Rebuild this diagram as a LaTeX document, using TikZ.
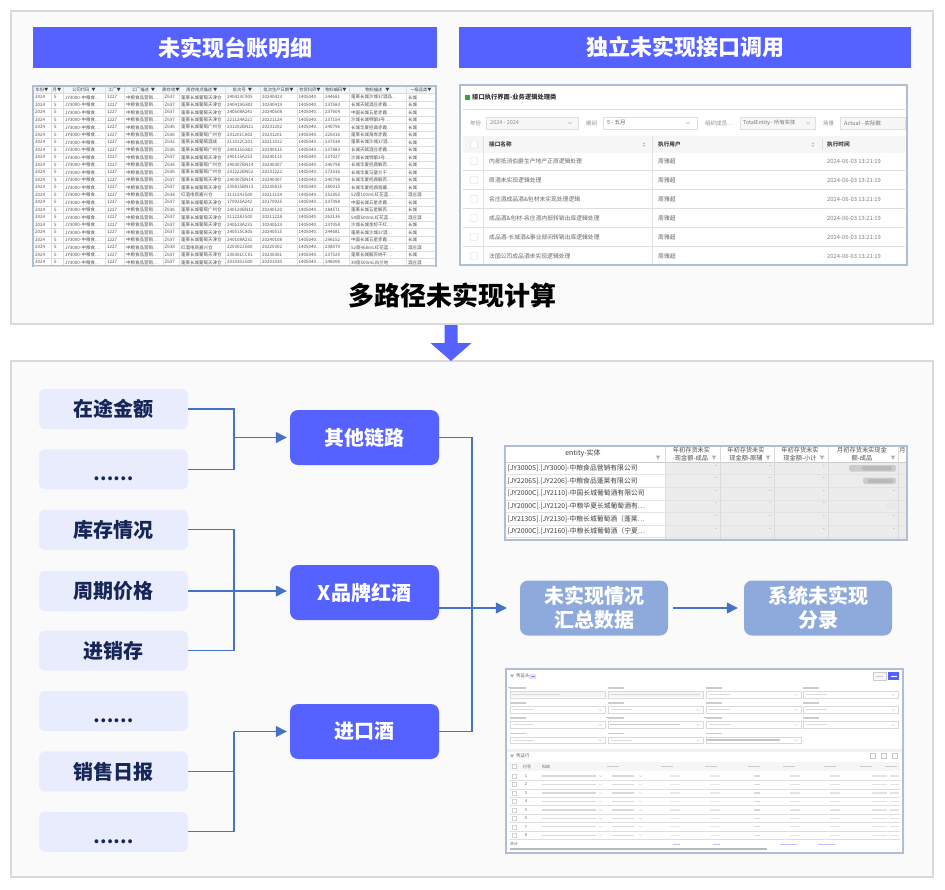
\documentclass[tikz,border=0pt]{standalone}
\usepackage{fontspec}
\setmainfont{Noto Sans CJK SC}
\usetikzlibrary{arrows.meta}
\newcommand\myfs[1]{\fontsize{#1}{#1}\selectfont}
\newcommand\lowdots{\smash{\raisebox{-11.5pt}{\myfs{18}……}}}
\definecolor{hdrblue}{RGB}{86,98,255}
\definecolor{panelbg}{RGB}{250,250,251}
\definecolor{panelline}{RGB}{217,217,217}
\definecolor{srcfill}{RGB}{232,236,253}
\definecolor{srctext}{RGB}{22,38,86}
\definecolor{connblue}{RGB}{68,114,196}
\definecolor{sumfill}{RGB}{142,169,219}
\definecolor{shotframe}{RGB}{176,190,212}
\definecolor{gridc}{RGB}{222,222,222}
\definecolor{txtgray}{RGB}{80,80,80}
\definecolor{cellgray}{RGB}{236,236,236}
\definecolor{hdrgray}{RGB}{245,246,248}
\begin{document}
\begin{tikzpicture}[x=1pt,y=-1pt,
  panel/.style={fill=panelbg,draw=panelline,line width=2pt},
  header/.style={fill=hdrblue,text=white,font=\myfs{22}\bfseries,minimum height=41pt,inner sep=0pt},
  srcbox/.style={fill=srcfill,rounded corners=6pt,minimum width=149pt,minimum height=40pt,inner sep=0pt,text=srctext,font=\myfs{20}\bfseries},
  chainbox/.style={fill=hdrblue,rounded corners=8pt,minimum width=149pt,minimum height=55pt,inner sep=0pt,text=white,font=\myfs{20}\bfseries},
  sumbox/.style={fill=sumfill,rounded corners=8pt,minimum width=148pt,minimum height=55pt,inner sep=0pt,text=white,align=center,font=\fontsize{20}{24}\selectfont\bfseries},
  conn/.style={draw=connblue,line width=1.3pt},
  arr/.style={-{Triangle[length=11pt,width=11pt]}},
  shot/.style={draw=shotframe,line width=1.5pt,fill=white},
  sc/.style={anchor=west,inner sep=0pt,font=\myfs{4.5},text=txtgray},
  hc/.style={inner sep=0pt,font=\myfs{4.3},text=black!75},
  tx/.style={anchor=west,inner sep=0pt,font=\myfs{5.8},text=black!60},
  funnel/.pic={\fill[gray!65] (-2.5,-2)--(2.5,-2)--(0.6,0.3)--(0.6,2.2)--(-0.6,1.6)--(-0.6,0.3)--cycle;}
]
\useasboundingbox (0,0) rectangle (945,889);
\fill[white] (0,0) rectangle (945,889);
% panels
\draw[panel] (11,11) rectangle (933,324);
\draw[panel] (11,361) rectangle (933,877);
% headers
\node[header,minimum width=404pt] (h1) at (235,47.5) {未实现台账明细};
\node[header,minimum width=452pt] (h2) at (685,47.5) {独立未实现接口调用};
\node[font=\myfs{26}\bfseries,text=black,inner sep=0pt] (title) at (452,295) {多路径未实现计算};
% big arrow
\fill[hdrblue] (444.5,325) -- (457.5,325) -- (457.5,343) -- (471.5,343) -- (451,361) -- (430.5,343) -- (444.5,343) -- cycle;

% ================= screenshot 1 : spreadsheet
\draw[shot] (33,86) rectangle (436,266);
\fill[hdrgray] (34,87) rectangle (435,93.5);
\foreach \k in {0,...,23}{\draw[gridc,line width=.3pt] (34,93.5+7.5*\k) -- (435,93.5+7.5*\k);}
\foreach \x in {51,63,105,124,163,179,225,260,297,323,349,406}{\draw[gridc,line width=.3pt] (\x,87) -- (\x,265);}
\foreach \cx/\lab [count=\j] in {42/年份▼,57/月▼,84/公司代码~~▼,114.5/工厂▼,143.5/工厂描述~~▼,171/库存地▼,202/库存地点描述~▼,242.5/批次号~~▼,278.5/批次生产日期▼,310/存货科目▼,336/物料编码▼,377.5/物料描述~~~▼,421/一级品类▼}
  {\node[hc] (sh\j) at (\cx,90.3) {\lab};}
\foreach \loc/\ld/\bt/\dt/\mt/\md/\ct [count=\i] in {
Z637/蓬莱长城葡萄天津仓/240423C905/20240423/244681/蓬莱长城沙城37酒品…/长城,
Z637/蓬莱长城葡萄天津仓/240419G802/20240419/237583/长城天赋酒庄赤霞…/长城,
Z637/蓬莱长城葡萄天津仓/240508A241/20240508/237604/中国长城五星赤霞…/长城,
Z637/蓬莱长城葡萄天津仓/221124A221/20221124/237154/沙城长城特酿3号…/长城,
Z636/蓬莱长城葡萄广州仓/231202BN21/20231202/240796/长城华夏经典赤霞…/长城,
Z636/蓬莱长城葡萄广州仓/231201C802/20231201/225016/蓬莱长城海岸赤霞…/长城,
Z632/蓬莱长城葡萄酒成…/211012C201/20211012/237538/蓬莱长城沙城37酒…/长城,
Z636/蓬莱长城葡萄广州仓/240515G802/20240515/237883/长城天赋酒庄赤霞…/长城,
Z637/蓬莱长城葡萄天津仓/240115A223/20240115/237027/沙城长城特酿3号…/长城,
Z638/蓬莱长城葡萄广州仓/240307BN14/20240307/240798/长城华夏经典解百…/长城,
Z636/蓬莱长城葡萄广州仓/231222BN52/20231222/273316/长城华夏马瑟兰干…/长城,
Z637/蓬莱长城葡萄天津仓/240307BN14/20240307/240798/长城华夏经典解百…/长城,
Z637/蓬莱长城葡萄天津仓/230815BN13/20230815/280015/长城华夏经典窖藏…/长城,
Z638/红酒电商嘉兴仓/211124JG00/20211124/252855/52度100mL红花蓝…/酒庄酒,
Z637/蓬莱长城葡萄天津仓/170925A242/20170925/237398/中国长城五星赤霞…/长城,
Z636/蓬莱长城葡萄广州仓/240120BN12/20240120/284571/蓬莱长城五星解百…/长城,
Z637/蓬莱长城葡萄天津仓/211228JG00/20211228/262136/54度500mL红花蓝…/酒庄酒,
Z637/蓬莱长城葡萄天津仓/240513A231/20240513/237058/沙城长城金标干红…/长城,
Z637/蓬莱长城葡萄天津仓/240515C805/20240515/244681/蓬莱长城沙城37酒…/长城,
Z637/蓬莱长城葡萄天津仓/240108A231/20240108/296152/中国长城五星赤霞…/长城,
Z638/红酒电商嘉兴仓/220302JG00/20220302/238079/52度468mL红花蓝…/酒庄酒,
Z637/蓬莱长城葡萄天津仓/230301CC01/20230301/237529/蓬莱长城解百纳干…/长城,
Z637/蓬莱长城葡萄天津仓/201030JG00/20201030/248006/39度500mL白兰地/酒庄酒}{
  \pgfmathsetmacro\yy{97.3+7.5*(\i-1)}
  \node[sc] (a\i-1) at (35,\yy) {2024};
  \node[sc] (a\i-2) at (54,\yy) {5};
  \node[sc] (a\i-3) at (65,\yy) {JY3000-中粮食…};
  \node[sc] (a\i-4) at (107,\yy) {1227};
  \node[sc] (a\i-5) at (126,\yy) {中粮食品营销…};
  \node[sc] (a\i-6) at (164.5,\yy) {\loc};
  \node[sc] (a\i-7) at (181,\yy) {\ld};
  \node[sc] (a\i-8) at (227,\yy) {\bt};
  \node[sc] (a\i-9) at (262,\yy) {\dt};
  \node[sc] (a\i-10) at (298.5,\yy) {1405040…};
  \node[sc] (a\i-11) at (325,\yy) {\mt};
  \node[sc] (a\i-12) at (351,\yy) {\md};
  \node[sc] (a\i-13) at (408,\yy) {\ct};
}

% ================= screenshot 2 : interface list
\draw[shot] (460,85) rectangle (907,265);
\fill[green!55!black!80] (465,94.5) rectangle (469.5,100);
\node[anchor=west,inner sep=0pt,font=\myfs{6.3}\bfseries,text=black!80] (b-title) at (472,97.3) {接口执行界面-业务逻辑处理类};
\draw[gridc,line width=.4pt] (463,109) -- (905,109);
\node[tx,font=\myfs{5.5},text=black!45] (b-f1) at (470,123) {年份};
\draw[gray!25,fill=gray!6] (486,117) rectangle (578,129);
\node[tx,font=\myfs{5.5},text=black!45] (b-f1v) at (490,123) {2024 - 2024};
\node[tx,font=\myfs{5.5},text=black!45] (b-f2) at (586,123) {期间};
\draw[gray!25,fill=white] (603,117) rectangle (697,129);
\node[tx,font=\myfs{5.5},text=black!60] (b-f2v) at (607,123) {5 - 五月};
\node[tx,font=\myfs{5.5},text=black!45] (b-f3) at (705,123) {组织成员…};
\draw[gray!25,fill=gray!6] (740,117) rectangle (815,129);
\node[tx,font=\myfs{5.3},text=black!55] (b-f3v) at (743,123) {TotalEntity - 所有实体};
\node[tx,font=\myfs{5.5},text=black!45] (b-f4) at (823,123) {场景};
\draw[gray!25,fill=gray!6] (840,117) rectangle (905,129);
\node[tx,font=\myfs{5.5},text=black!55] (b-f4v) at (844,123) {Actual - 实际数};
\foreach \x in {570,688,808}{\draw[gray!50,line width=.4pt] (\x-2,122) -- (\x,124) -- (\x+2,122);}
\fill[hdrgray] (463,136) rectangle (905,153);
\foreach \k in {1,...,5}{\draw[gridc,line width=.4pt] (463,151.5+19*\k) -- (905,151.5+19*\k);}
\draw[gridc,line width=.4pt] (483,136) -- (483,264);
\draw[gridc,line width=.4pt] (652,136) -- (652,264);
\draw[gridc,line width=.4pt] (822,139) -- (822,150);
\draw[gray!40,fill=white,rounded corners=.8pt] (470.5,141) rectangle (477.5,148);
\node[tx,font=\myfs{5.6}\bfseries,text=black!75] (b-h1) at (489,144.5) {接口名称};
\node[tx,font=\myfs{5.6}\bfseries,text=black!75] (b-h2) at (658,144.5) {执行用户};
\node[tx,font=\myfs{5.6}\bfseries,text=black!75] (b-h3) at (827,144.5) {执行时间};
\foreach \x in {644,813}{\fill[gray!50] (\x-1.3,143.8)--(\x+1.3,143.8)--(\x,142.2)--cycle; \fill[gray!50] (\x-1.3,145.2)--(\x+1.3,145.2)--(\x,146.8)--cycle;}
\foreach \t [count=\k] in {{内部抵消伯爵生产地产正原逻辑处理},{原酒未实现逻辑处理},{名庄酒成品酒\&包材未实现处理逻辑},{成品酒\&包材-名庄酒内部转销出库逻辑处理},{成品酒-长城酒\&事业部间转销出库逻辑处理},{法国公司成品酒未实现逻辑处理}}{
  \pgfmathsetmacro\yy{161+19*(\k-1)}
  \draw[gray!35,fill=white,rounded corners=.8pt] (470.5,\yy-3.5) rectangle (477.5,\yy+3.5);
  \node[tx] (b-r\k) at (489,\yy) {\t};
  \node[tx] (b-u\k) at (658,\yy) {周雅超};
  \node[tx,text=black!50] (b-d\k) at (827,\yy) {2024-06-03 13:21:19};
}

% ================= screenshot 3 : entity table
\draw[shot] (505,446) rectangle (907,540);
\fill[cellgray] (665,462) rectangle (906,539);
\foreach \k in {0,...,6}{\draw[gray!22,line width=.4pt] (506,462+12.6*\k) -- (906,462+12.6*\k);}
\draw[gray!40,line width=.5pt] (506,462) -- (906,462);
\foreach \x in {665,720,774,828,898}{\draw[gray!28,line width=.4pt] (\x,447) -- (\x,539);}
\node[inner sep=0pt,font=\myfs{7},text=black!75] (c-h1) at (583,453.5) {entity-实体};
\node[inner sep=0pt,align=center,font=\fontsize{6.2}{8}\selectfont,text=black!70] (c-h2) at (691.5,454.5) {年初存货未实\\现金额-成品};
\node[inner sep=0pt,align=center,font=\fontsize{6.2}{8}\selectfont,text=black!70] (c-h3) at (746,454.5) {年初存货未实\\现金额-原辅};
\node[inner sep=0pt,align=center,font=\fontsize{6.2}{8}\selectfont,text=black!70] (c-h4) at (800,454.5) {年初存货未实\\现金额-小计};
\node[inner sep=0pt,align=center,font=\fontsize{6.2}{8}\selectfont,text=black!70] (c-h5) at (862,454.5) {月初存货未实现金\\额-成品};
\node[inner sep=0pt,font=\myfs{6.2},text=black!70] (c-h6) at (902.5,450.5) {月};
\foreach \x in {658,714,768,822,893}{\pic at (\x,457.5) {funnel};}
\foreach \t [count=\k] in {{[JY3000S].[JY3000]-中粮食品营销有限公司},{[JY2206S].[JY2206]-中粮食品蓬莱有限公司},{[JY2000C].[JY2110]-中国长城葡萄酒有限公司},{[JY2000C].[JY2120]-中粮华夏长城葡萄酒有…},{[JY2130S].[JY2130]-中粮长城葡萄酒（蓬莱…},{[JY2000C].[JY2160]-中粮长城葡萄酒（宁夏…}}{
  \pgfmathsetmacro\yy{468.3+12.6*(\k-1)}
  \node[anchor=west,inner sep=0pt,font=\myfs{6.8},text=black!75] (c-r\k) at (507.5,\yy) {\t};
  \foreach \x in {716,770,824}{\node[inner sep=0pt,font=\myfs{5},text=black!60] at (\x,\yy-2) {-};}
}
\foreach \k in {3,5,6}{\node[inner sep=0pt,font=\myfs{5},text=black!60] (c-d\k) at (894,468.3+12.6*\k-12.6-2) {-};}
\fill[gray!40,rounded corners=1.5pt] (849,465) rectangle (896,471.5);
\fill[gray!55,rounded corners=1.5pt] (862,466.2) rectangle (892,470.3);
\fill[gray!40,rounded corners=1.5pt] (863,477.6) rectangle (896,484);
\fill[gray!55,rounded corners=1.5pt] (868,478.8) rectangle (893,482.8);
\fill[gray!18,rounded corners=1.5pt] (886,503) rectangle (896,509);

% ================= screenshot 4 : voucher form
\draw[shot] (506,669) rectangle (903,853);
\fill[gray!70] (510,674.5)--(514,674.5)--(512,677.5)--cycle;
\node[tx,font=\myfs{4.5},text=black!65] (d-t1) at (516,676) {凭证头};
\fill[blue!12] (529,673.5) rectangle (536,678.5);
\fill[blue!45] (530.5,675.5) rectangle (534.5,676.5);
\draw[gray!40,fill=gray!8] (873,672) rectangle (886,680);
\fill[gray!40] (876,675.5) rectangle (883,676.5);
\fill[hdrblue] (888,672) rectangle (899,680);
\fill[white] (890.5,675.5) rectangle (896.5,676.5);
\foreach \yy [count=\r] in {688,703,718,733.5}{
  \foreach \xx [count=\c] in {510,608,706,803}{
    \pgfmathtruncatemacro\skipit{(\r==4 && \c==4) ? 1 : 0}
    \ifnum\skipit=0
      \fill[gray!40] (\xx,\yy-0.8) rectangle (\xx+16,\yy+0.8);
      \draw[gray!30,line width=.4pt,fill=white] (\xx,\yy+3.5) rectangle (\xx+95,\yy+10);
      \fill[gray!28] (\xx+3,\yy+6.1) rectangle (\xx+24,\yy+7.4);
      \draw[gray!45,line width=.35pt] (\xx+88.5,\yy+6) -- (\xx+90,\yy+7.5) -- (\xx+91.5,\yy+6);
    \fi
  }
}
\fill[gray!8] (511,691.8) rectangle (604.5,697.3);
\fill[gray!8] (609,691.8) rectangle (702.5,697.3);
\fill[gray!28] (512,693.9) rectangle (560,695.2);
\fill[gray!28] (610,693.9) rectangle (700,695.2);
\fill[gray!45] (610,723.9) rectangle (680,725.2);
\fill[gray!45] (707,739.4) rectangle (780,740.7);
\fill[red!70] (509,687.5) circle (.6);
\fill[red!70] (607,717.5) circle (.6);
\fill[red!70] (705,717.5) circle (.6);
\fill[gray!12] (507,748.5) rectangle (902,751.5);
\fill[gray!70] (510,754.5)--(514,754.5)--(512,757.5)--cycle;
\node[tx,font=\myfs{4.5},text=black!65] (d-t2) at (516,756) {凭证行};
\foreach \x in {873,884,895}{\draw[gray!45,line width=.4pt] (\x-2.5,753.5) rectangle (\x+2.5,758.5);}
\fill[hdrgray] (509,762) rectangle (900,771);
\draw[gray!40,fill=white,line width=.35pt] (512,764.5) rectangle (516,768.5);
\node[inner sep=0pt,font=\myfs{4},text=black!65] (d-h1) at (527,766.5) {行号};
\node[inner sep=0pt,font=\myfs{4},text=black!65] (d-h2) at (546,766.5) {科目};
\foreach \x in {613,667,711,754,789,830,866,891}{\fill[gray!40] (\x-6,766) rectangle (\x+6,767.3);}
\foreach \k in {1,...,8}{
  \pgfmathsetmacro\yy{776+8.45*(\k-1)}
  \draw[gridc,line width=.3pt] (509,\yy+4.2) -- (900,\yy+4.2);
  \draw[gray!35,fill=white,line width=.35pt] (512,\yy-2) rectangle (516,\yy+2);
  \node[inner sep=0pt,font=\myfs{4},text=black!60] (d-n\k) at (526,\yy) {\k};
  \fill[gray!30] (542,\yy-.6) rectangle (596,\yy+.7);
  \draw[gray!40,line width=.3pt] (599,\yy-.6) -- (600.5,\yy+.8) -- (602,\yy-.6);
  \fill[gray!30] (612,\yy-.6) rectangle (634,\yy+.7);
  \draw[gray!40,line width=.3pt] (639,\yy-.6) -- (640.5,\yy+.8) -- (642,\yy-.6);
  \fill[gray!18] (670,\yy-.6) rectangle (680,\yy+.7);
  \fill[gray!18] (710,\yy-.6) rectangle (720,\yy+.7);
  \fill[gray!30] (754,\yy-.6) rectangle (760,\yy+.7);
  \fill[gray!22] (790,\yy-.6) rectangle (800,\yy+.7);
  \fill[gray!22] (830,\yy-.6) rectangle (840,\yy+.7);
  \fill[gray!22] (872,\yy-.6) rectangle (887,\yy+.7);
  \fill[gray!22] (890,\yy-.6) rectangle (899,\yy+.7);
}
\node[anchor=west,inner sep=0pt,font=\myfs{4},text=black!60] (d-sum) at (510,844) {合计};
\foreach \a/\b in {673/680,713/720,780/797,818/835}{\fill[blue!25] (\a,843.5) rectangle (\b,845);}
\fill[gray!55] (510,847.5) rectangle (767,849.5);

% ================= lower flow
\node[srcbox] (s1) at (113.5,409) {在途金额};
\node[srcbox] (s2) at (113.5,469.4) {\lowdots};
\node[srcbox] (s3) at (113.5,529.8) {库存情况};
\node[srcbox] (s4) at (113.5,591) {周期价格};
\node[srcbox] (s5) at (113.5,650.6) {进销存};
\node[srcbox] (s6) at (113.5,711) {\lowdots};
\node[srcbox] (s7) at (113.5,771.4) {销售日报};
\node[srcbox] (s8) at (113.5,831.8) {\lowdots};
\node[chainbox] (c1) at (364.5,437.5) {其他链路};
\node[chainbox] (c2) at (364.5,592.5) {X品牌红酒};
\node[chainbox] (c3) at (364.5,731.5) {进口酒};
\node[sumbox] (sum) at (594,608) {未实现情况\\汇总数据};
\node[sumbox] (sys) at (818,608) {系统未实现\\分录};

\coordinate (j1) at (234,437.5);
\coordinate (j2) at (234,591);
\coordinate (j3) at (234,731.5);
\coordinate (jr) at (472,608);
\draw[conn] (s1.east) -| (j1) |- (s2.east);
\draw[conn,arr,shorten >=3pt] (j1) -- (c1.west);
\draw[conn] (s3.east) -| (j2) |- (s5.east);
\draw[conn,arr,shorten >=3pt] (s4.east) -- (c2.west |- s4.east);
\draw[conn] (s7.east) -| (j3);
\draw[conn] (s8.east) -| (j3);
\draw[conn,arr,shorten >=3pt] (j3) -- (c3.west);
\draw[conn] (c1.east) -| (jr) |- (c3.east);
\draw[conn] (c2.east |- jr) -- (jr);
\draw[conn,arr,shorten >=13pt] (jr) -- (sum.west);
\draw[conn,arr,shorten <=5pt,shorten >=6pt] (sum.east) -- (sys.west);
\end{tikzpicture}
\end{document}
